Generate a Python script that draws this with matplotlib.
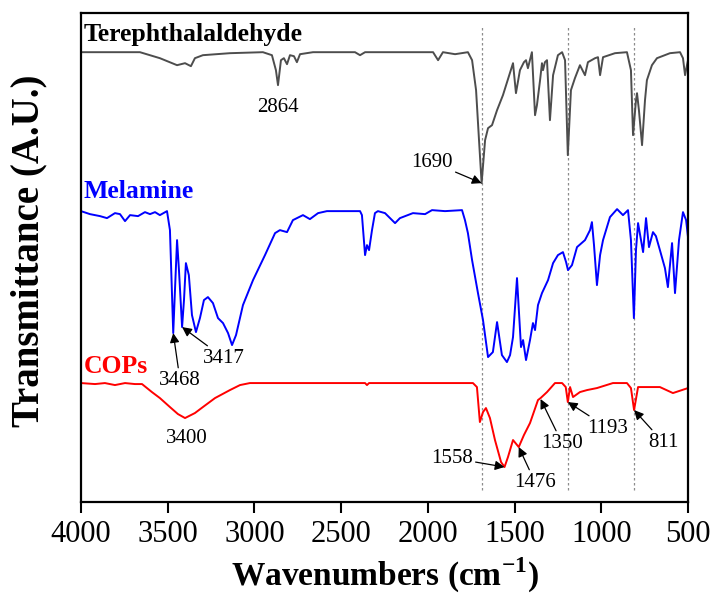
import matplotlib
import matplotlib.pyplot as plt

matplotlib.use("Agg")

plt.rcParams["font.family"] = ["Liberation Serif", "DejaVu Serif"]
plt.rcParams["mathtext.fontset"] = "custom"
plt.rcParams["mathtext.rm"] = "Liberation Serif"
plt.rcParams["mathtext.bf"] = "Liberation Serif:bold"

# wavenumber (cm-1) / transmittance (arbitrary, already offset)
tere_wn = [4000, 3660, 3545, 3446, 3400, 3366, 3343, 3297, 3141, 2951, 2899, 2876, 2864,
           2847, 2830, 2812, 2795, 2772, 2755, 2737, 2662, 2420, 2391, 2362, 1970, 1941,
           1913, 1843, 1769, 1745, 1722, 1705, 1690, 1670, 1653, 1630, 1601, 1567, 1509,
           1492, 1469, 1446, 1434, 1423, 1400, 1382, 1371, 1353, 1342, 1336, 1325, 1313,
           1296, 1278, 1250, 1226, 1209, 1193, 1175, 1152, 1123, 1094, 1077, 1036, 1019,
           1007, 990, 921, 852, 829, 817, 800, 794, 783, 765, 748, 737, 708, 679, 604,
           546, 529, 517, 506, 500]
tere_t = [450, 450, 444, 437, 439, 436, 444, 447, 449, 450, 447, 432, 417,
          442, 444, 438, 447, 446, 440, 448, 450, 450, 447, 450, 450, 442,
          450, 448, 450, 442, 412, 362, 319, 362, 374, 377, 392, 407, 439,
          409, 432, 440, 442, 434, 450, 387, 397, 422, 439, 432, 440, 442,
          382, 427, 447, 450, 442, 347, 412, 424, 437, 427, 440, 444, 445,
          427, 445, 449, 450, 432, 367, 402, 409, 392, 357, 402, 422, 437, 444, 449,
          450, 444, 427, 437, 442]

mel_wn = [4000, 3948, 3890, 3850, 3804, 3775, 3746, 3717, 3671, 3631, 3602, 3573, 3545,
          3504, 3487, 3468, 3458, 3446, 3435, 3417, 3406, 3395, 3378, 3360, 3337, 3314,
          3291, 3268, 3239, 3210, 3181, 3152, 3129, 3106, 3066, 3008, 2939, 2881, 2853,
          2812, 2778, 2720, 2680, 2633, 2582, 2391, 2380, 2362, 2351, 2339, 2322, 2305,
          2288, 2247, 2189, 2161, 2086, 2016, 1976, 1901, 1803, 1786, 1769, 1745, 1711,
          1682, 1653, 1625, 1601, 1573, 1544, 1526, 1509, 1486, 1463, 1451, 1434, 1411,
          1394, 1382, 1365, 1342, 1307, 1278, 1250, 1221, 1203, 1192, 1169, 1140, 1094,
          1065, 1054, 1042, 1025, 1007, 990, 950, 909, 875, 846, 829, 812, 800, 788, 771,
          759, 742, 725, 702, 685, 662, 633, 616, 592, 575, 552, 529, 511, 500]
mel_t = [291, 288, 286, 284, 289, 288, 281, 287, 286, 290, 288, 290, 287,
         291, 272, 169, 212, 262, 232, 175, 202, 239, 227, 187, 170, 184,
         202, 205, 199, 184, 179, 169, 157, 167, 197, 222, 247, 269, 272,
         270, 282, 287, 283, 289, 291, 291, 287, 247, 257, 252, 272, 289,
         291, 289, 279, 284, 289, 288, 292, 291, 292, 282, 269, 242, 209,
         182, 145, 150, 180, 147, 140, 147, 165, 224, 155, 162, 142, 162,
         179, 172, 197, 209, 222, 239, 247, 250, 240, 232, 237, 255, 262,
         272, 280, 257, 217, 247, 262, 285, 293, 287, 292, 262, 184, 252, 279, 262,
         250, 284, 255, 270, 266, 252, 234, 215, 259, 209, 262, 290, 282, 265]

cop_wn = [4000, 3919, 3862, 3804, 3746, 3689, 3648, 3591, 3545, 3487, 3441, 3400, 3343,
          3297, 3227, 3141, 3083, 3026, 2362, 2351, 2339, 1740, 1717, 1700, 1682, 1665,
          1642, 1613, 1578, 1558, 1538, 1509, 1476, 1446, 1411, 1365, 1350, 1313, 1267,
          1226, 1205, 1193, 1180, 1163, 1123, 1082, 1025, 933, 852, 829, 811, 788, 662,
          587, 500]
cop_t = [119, 118, 119, 117, 119, 118, 118, 110, 104, 95, 88, 84, 89,
         95, 104, 112, 117, 119, 119, 117, 119, 119, 115, 80, 90, 94,
         84, 62, 40, 35, 45, 62, 55, 67, 79, 102, 104, 110, 119,
         119, 115, 100, 115, 105, 110, 112, 114, 119, 119, 114, 92, 115, 115,
         109, 114]

guide_wn = [1690, 1193, 811]

# label text, arrow target (wn, T), text centre (wn, T)
peaks = [
    ("2864", None, (2864, 395)),
    ("1690", (1690, 319), (1976, 340)),
    ("3468", (3468, 169), (3429, 122)),
    ("3417", (3417, 175), (3175, 144)),
    ("3400", None, (3389, 64)),
    ("1558", (1558, 35), (1861, 44)),
    ("1476", (1476, 55), (1382, 20)),
    ("1350", (1350, 103), (1226, 59)),
    ("1193", (1193, 100), (961, 74)),
    ("811", (811, 92), (644, 60)),
]

fig = plt.figure(figsize=(7.14, 6), dpi=100)
ax = fig.add_axes([0.1134, 0.1633, 0.8502, 0.8147])

for wn in guide_wn:
    ax.plot([wn, wn], [12, 475], color="#8c8c8c", lw=0.9, ls=(0, (2, 2)))

ax.plot(tere_wn, tere_t, color="#4d4d4d", lw=1.4)
ax.plot(mel_wn, mel_t, color="#0000ff", lw=1.4)
ax.plot(cop_wn, cop_t, color="#ff0000", lw=1.4)

ax.text(3983, 468, "Terephthalaldehyde", fontsize=18.5, fontweight="bold",
        color="black", ha="left", va="center")
ax.text(3983, 311, "Melamine", fontsize=18.5, fontweight="bold",
        color="#0000ff", ha="left", va="center")
ax.text(3983, 136, "COPs", fontsize=18.5, fontweight="bold",
        color="#ff0000", ha="left", va="center")

for label, tip, pos in peaks:
    if tip is None:
        ax.text(pos[0], pos[1], label, fontsize=15, ha="center", va="center")
    else:
        ax.annotate(label, xy=tip, xytext=pos, fontsize=15, ha="center", va="center",
                    arrowprops=dict(arrowstyle="-|>", color="black", lw=0.9,
                                    mutation_scale=14, shrinkA=0, shrinkB=0))

ax.set_xlim(4000, 500)
ax.set_ylim(0, 489)
ax.set_xticks([4000, 3500, 3000, 2500, 2000, 1500, 1000, 500])
ax.set_yticks([])
ax.tick_params(axis="x", direction="out", length=8, width=1.5, labelsize=22, pad=5)
for sp in ax.spines.values():
    sp.set_linewidth(1.6)

ax.set_xlabel("Wavenumbers (cm$^{\\mathbf{-1}}$)", fontsize=24, fontweight="bold", labelpad=5)
ax.set_ylabel("Transmittance (A.U.)", fontsize=28, fontweight="bold")
ax.yaxis.set_label_coords(-0.056, 0.515)

fig.savefig("out.png", dpi=100)
